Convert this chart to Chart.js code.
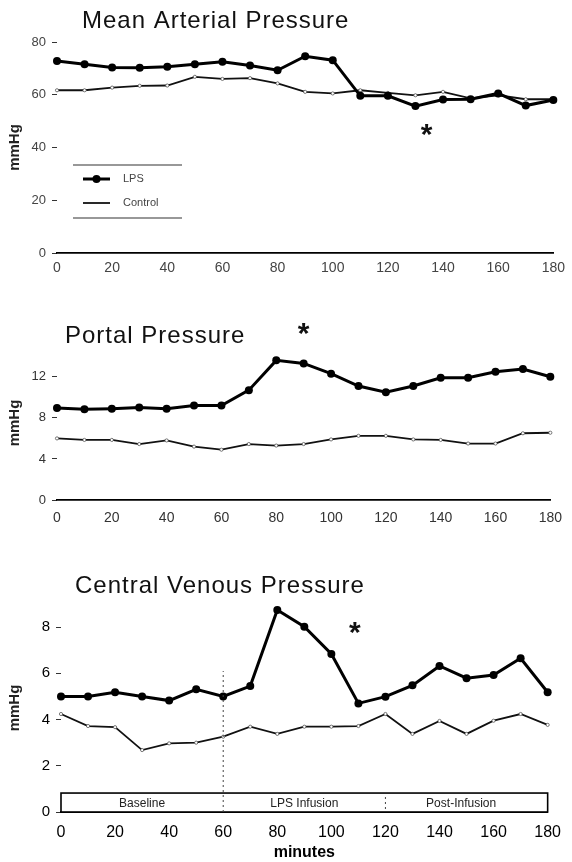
<!DOCTYPE html>
<html>
<head>
<meta charset="utf-8">
<script src="https://cdn.jsdelivr.net/npm/chart.js@4.4.1/dist/chart.umd.min.js"></script>
<style>
  body { margin: 0; background: #fff; width: 572px; height: 862px; position: relative; overflow: hidden; }
  .panel { position: absolute; left: 0; width: 572px; }
</style>
</head>
<body>
<div class="panel" style="top:0;height:290px"><canvas id="map"></canvas></div>
<div class="panel" style="top:290px;height:240px"><canvas id="portal"></canvas></div>
<div class="panel" style="top:530px;height:332px"><canvas id="cvp"></canvas></div>
<script>
// time points, minutes
const minutes = [0, 10, 20, 30, 40, 50, 60, 70, 80, 90, 100, 110, 120, 130, 140, 150, 160, 170, 180];
const xTicks = [0, 20, 40, 60, 80, 100, 120, 140, 160, 180];

// mean arterial pressure, mmHg
const mapLps     = [72.8, 71.6, 70.3, 70.2, 70.6, 71.6, 72.5, 71.1, 69.3, 74.6, 73.1, 59.6, 59.6, 55.7, 58.2, 58.3, 60.5, 55.9, 58.0];
const mapControl = [61.7, 61.7, 62.7, 63.4, 63.5, 66.8, 66.0, 66.3, 64.3, 61.1, 60.5, 61.7, 60.7, 59.8, 61.1, 58.6, 59.8, 58.3, 58.3];

// portal pressure, mmHg
const portalLps     = [8.95, 8.85, 8.9, 9.0, 8.9, 9.2, 9.2, 10.7, 13.6, 13.3, 12.3, 11.1, 10.5, 11.1, 11.9, 11.9, 12.5, 12.75, 12.0];
const portalControl = [6.0, 5.85, 5.85, 5.45, 5.8, 5.2, 4.9, 5.45, 5.3, 5.45, 5.9, 6.25, 6.25, 5.9, 5.85, 5.5, 5.5, 6.5, 6.55];

// central venous pressure, mmHg
const cvpLps     = [5.0, 5.0, 5.18, 5.0, 4.82, 5.31, 5.0, 5.45, 8.74, 8.02, 6.84, 4.7, 4.99, 5.48, 6.32, 5.79, 5.93, 6.65, 5.18];
const cvpControl = [4.24, 3.72, 3.67, 2.68, 2.97, 3.0, 3.26, 3.69, 3.38, 3.69, 3.69, 3.72, 4.24, 3.38, 3.94, 3.38, 3.95, 4.24, 3.77];

// significance marks [minute, value]
const mapStars = [[134, 46.6]];
const portalStars = [[90, 16.7]];
const cvpStars = [[108.7, 7.97]];

// experiment phases along the time axis
const phaseNames = ['Baseline', 'LPS Infusion', 'Post-Infusion'];
const phaseBounds = [0, 60, 120, 180];
const phaseLabelAt = [30, 90, 148];

const FONT = '"Liberation Sans", Arial, Helvetica, sans-serif';

const toXY = (vals) => vals.map((v, i) => ({ x: minutes[i], y: v }));

function makeSets(lps, control) {
  return [
    { label: 'LPS', data: toXY(lps), borderColor: '#000', backgroundColor: '#000', clip: false,
      borderWidth: 3, pointRadius: 4, pointBackgroundColor: '#000', pointBorderWidth: 0 },
    { label: 'Control', data: toXY(control), borderColor: '#111', backgroundColor: '#fff', clip: false,
      borderWidth: 1.8, pointRadius: 1.6, pointBackgroundColor: '#fff', pointBorderColor: '#444', pointBorderWidth: 0.7 }
  ];
}

const panelDecor = {
  id: 'panelDecor',
  afterDraw(chart, args, opts) {
    const ctx = chart.ctx, xs = chart.scales.x, ys = chart.scales.y;
    ctx.save();

    // panel heading
    ctx.font = '24px ' + FONT;
    ctx.letterSpacing = '1px';
    ctx.fillStyle = '#111';
    ctx.textAlign = 'left';
    ctx.textBaseline = 'alphabetic';
    ctx.fillText(opts.title, opts.titleX, opts.titleY);
    ctx.letterSpacing = '0px';

    // asterisks
    ctx.font = 'bold 30px ' + FONT;
    ctx.textAlign = 'center';
    (opts.stars || []).forEach(([m, v]) => {
      const mt = ctx.measureText('*');
      const cy = ys.getPixelForValue(v);
      const base = cy - (mt.actualBoundingBoxDescent - mt.actualBoundingBoxAscent) / 2;
      ctx.fillText('*', xs.getPixelForValue(m), base);
    });

    // legend box
    if (opts.legend) {
      const L = opts.legend;
      ctx.strokeStyle = '#333';
      ctx.lineWidth = 1.2;
      ctx.beginPath();
      ctx.moveTo(L.x0, L.top); ctx.lineTo(L.x1, L.top);
      ctx.moveTo(L.x0, L.bottom); ctx.lineTo(L.x1, L.bottom);
      ctx.stroke();
      chart.data.datasets.forEach((ds, i) => {
        const yy = L.rows[i];
        ctx.strokeStyle = ds.borderColor;
        ctx.lineWidth = ds.borderWidth;
        ctx.beginPath();
        ctx.moveTo(L.sx0, yy); ctx.lineTo(L.sx1, yy);
        ctx.stroke();
        if (i === 0) {
          ctx.fillStyle = '#000';
          ctx.beginPath();
          ctx.arc((L.sx0 + L.sx1) / 2, yy, 4, 0, Math.PI * 2);
          ctx.fill();
        }
        ctx.fillStyle = '#444';
        ctx.font = '11px ' + FONT;
        ctx.textAlign = 'left';
        ctx.textBaseline = 'middle';
        ctx.fillText(ds.label, L.tx, yy);
      });
    }

    // phase band under the curves
    if (opts.band) {
      const top = ys.getPixelForValue(opts.band.height);
      const bot = ys.getPixelForValue(0);
      const left = xs.getPixelForValue(phaseBounds[0]);
      const right = xs.getPixelForValue(phaseBounds[phaseBounds.length - 1]);
      ctx.fillStyle = '#fff';
      ctx.fillRect(left, top, right - left, bot - top);
      ctx.strokeStyle = '#000';
      ctx.lineWidth = 1.6;
      ctx.strokeRect(left, top, right - left, bot - top);

      ctx.setLineDash([2, 3]);
      ctx.lineWidth = 1;
      ctx.strokeStyle = '#444';
      // long divider at the start of infusion
      ctx.beginPath();
      const d1 = xs.getPixelForValue(phaseBounds[1]);
      ctx.moveTo(d1, bot); ctx.lineTo(d1, ys.getPixelForValue(opts.band.dividerTop));
      // short divider at the end of infusion
      const d2 = xs.getPixelForValue(phaseBounds[2]);
      ctx.moveTo(d2, bot - 3); ctx.lineTo(d2, top + 3);
      ctx.stroke();
      ctx.setLineDash([]);

      ctx.fillStyle = '#222';
      ctx.font = '12px ' + FONT;
      ctx.textAlign = 'center';
      ctx.textBaseline = 'middle';
      phaseNames.forEach((n, i) => {
        ctx.fillText(n, xs.getPixelForValue(phaseLabelAt[i]), (top + bot) / 2 + 1);
      });
    }
    ctx.restore();
  }
};

function makeChart(id, sets, cfg) {
  return new Chart(document.getElementById(id), {
    type: 'line',
    data: { datasets: sets },
    plugins: [panelDecor],
    options: {
      responsive: true,
      maintainAspectRatio: false,
      animation: false,
      layout: { padding: { top: cfg.top, right: cfg.right, bottom: 0, left: 0 } },
      plugins: {
        legend: { display: false },
        tooltip: { enabled: false },
        panelDecor: cfg.decor
      },
      scales: {
        x: {
          type: 'linear', min: 0, max: 180,
          afterBuildTicks: (s) => { s.ticks = xTicks.map(v => ({ value: v })); },
          afterFit: (s) => { s.height = cfg.xHeight; },
          grid: { display: false, drawTicks: false },
          border: { display: true, color: '#000', width: cfg.axisWidth },
          ticks: { color: cfg.tickColor, padding: cfg.xPad, font: { family: FONT, size: cfg.xFont }, maxRotation: 0 },
          title: cfg.xTitle ? { display: true, text: cfg.xTitle, color: '#000',
            font: { family: FONT, size: 16, weight: 'bold', lineHeight: 1.2 }, padding: { top: 0, bottom: 0 } } : { display: false }
        },
        y: {
          min: 0, max: cfg.yMax,
          afterFit: (s) => { s.width = cfg.left; },
          grid: { drawOnChartArea: false, drawTicks: true, tickLength: 5, color: '#333', lineWidth: 1 },
          border: { display: false },
          ticks: { stepSize: cfg.yStep, includeBounds: false, color: cfg.tickColor, padding: 6,
            font: { family: FONT, size: cfg.yFont } },
          title: { display: true, text: 'mmHg', color: '#222',
            font: { family: FONT, size: 15, weight: 'bold' }, padding: { top: 6, bottom: 0 } }
        }
      }
    }
  });
}

makeChart('map', makeSets(mapLps, mapControl), {
  top: 42, right: 14, left: 57, xHeight: 37, yMax: 80, yStep: 20,
  tickColor: '#444', xFont: 14, yFont: 13, xPad: 7, axisWidth: 1.8,
  decor: {
    title: 'Mean Arterial Pressure', titleX: 82, titleY: 28, stars: mapStars,
    legend: { x0: 73, x1: 182, top: 165, bottom: 218, sx0: 83, sx1: 110, tx: 123, rows: [179, 203] }
  }
});

makeChart('portal', makeSets(portalLps, portalControl), {
  top: 56, right: 19, left: 57, xHeight: 30, yMax: 15, yStep: 4,
  tickColor: '#333', xFont: 14, yFont: 13, xPad: 10, axisWidth: 1.8,
  decor: { title: 'Portal Pressure', titleX: 65, titleY: 53, stars: portalStars }
});

makeChart('cvp', makeSets(cvpLps, cvpControl), {
  top: 74, right: 24, left: 61, xHeight: 50, yMax: 9, yStep: 2,
  tickColor: '#000', xFont: 16, yFont: 15, xPad: 11, axisWidth: 2,
  xTitle: 'minutes',
  decor: { title: 'Central Venous Pressure', titleX: 75, titleY: 63, stars: cvpStars,
    band: { height: 0.82, dividerTop: 6.1 } }
});
</script>
</body>
</html>
